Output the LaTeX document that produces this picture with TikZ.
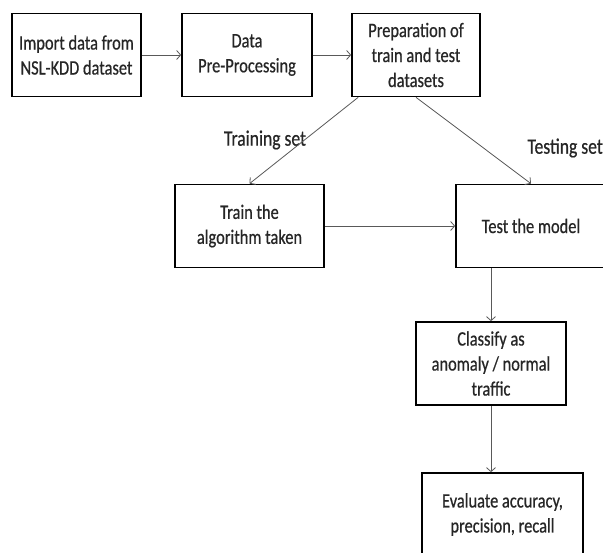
\documentclass[tikz,border=0pt]{standalone}
\usepackage{fontspec}
\setmainfont{Carlito}[FakeStretch=0.8, FakeBold=0.6]
\usetikzlibrary{positioning,arrows.meta,calc}
\tikzset{>={Straight Barb[length=4pt,width=9pt]}}
\tikzset{
  stage/.style={draw=black, line width=1.7pt, align=center, inner sep=2pt,
    minimum height=83pt, font=\fontsize{20.5}{25}\selectfont, text=black!85},
  flow/.style={->, draw=black!65, line width=0.8pt},
  setlabel/.style={font=\fontsize{22}{24}\selectfont, text=black!85}
}
\begin{document}
\begin{tikzpicture}[x=1pt, y=-1pt]
        \useasboundingbox[fill=white] (0,0) rectangle (603,553);
		% top row
		\node[stage, minimum width=129pt] (import) at (76.5,55) {Import data from\\NSL-KDD dataset};
		\node[stage, minimum width=130pt] (prep) at (247,55) {Data\\Pre-Processing};
		\node[stage, minimum width=128pt] (split) at (416,55) {Preparation of\\train and test\\datasets};
        % middle row
		\node[stage, minimum width=149pt] (train) at (249.5,226) {Train the\\algorithm taken};
		\node[stage, minimum width=150pt] (test) at (531,226) {Test the model};
        % right column
		\node[stage, minimum width=150pt] (classify) at (491,363.5) {Classify as\\anomaly / normal\\traffic};
		\node[stage, minimum width=161pt] (evaluate) at (502.5,514.5) {Evaluate accuracy,\\precision, recall};
        \node[setlabel] (trainlbl) at (265,140) {Training set};
        \node[setlabel, anchor=west] (testlbl) at (524,148) {Testing set};
        \draw[flow] (import) -- (prep);
        \draw[flow] (prep) -- (split);
        \draw[flow] ([xshift=7pt]split.south west) -- (train.north);
        \draw[flow] (split.south) -- (test.north);
        \draw[flow] (train) -- (test);
        \draw[flow] (test.south -| classify.north) -- (classify.north);
        \draw[flow] (classify.south) -- (evaluate.north -| classify.south);
\end{tikzpicture}
\end{document}
